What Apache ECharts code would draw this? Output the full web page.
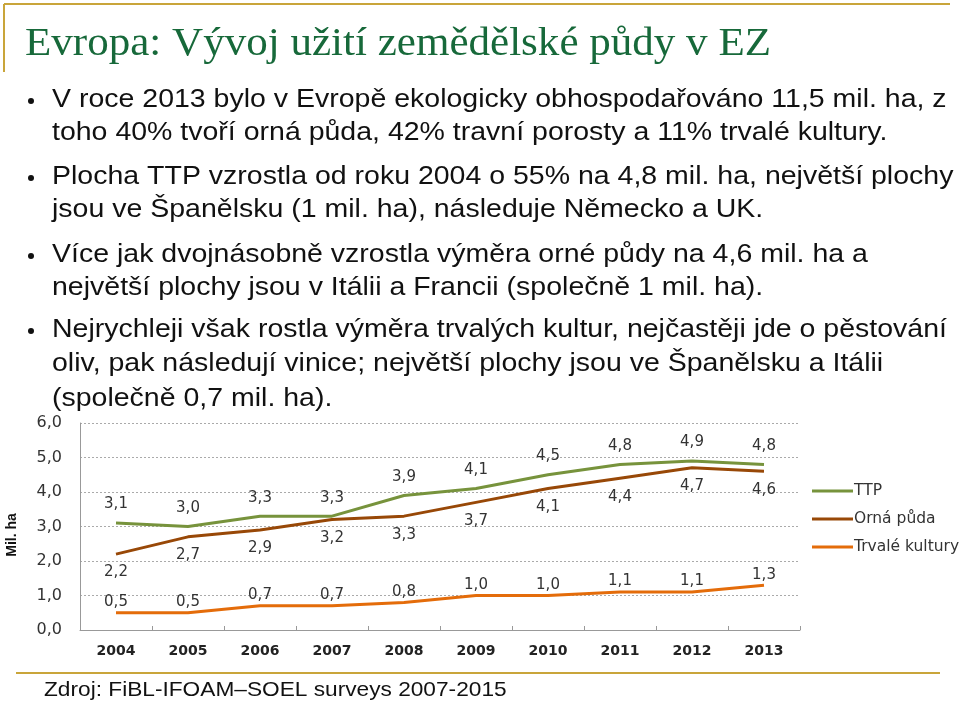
<!DOCTYPE html>
<html>
<head>
<meta charset="utf-8">
<script src="https://cdn.jsdelivr.net/npm/echarts@6/dist/echarts.min.js"></script>
<style>
html,body{margin:0;padding:0;background:#fff;}
#chart{width:960px;height:705px;}
</style>
</head>
<body>
<div id="chart"></div>
<script>
const years = ['2004','2005','2006','2007','2008','2009','2010','2011','2012','2013'];
const ttp = [3.1, 3.0, 3.3, 3.3, 3.9, 4.1, 4.5, 4.8, 4.9, 4.8];
const orna = [2.2, 2.7, 2.9, 3.2, 3.3, 3.7, 4.1, 4.4, 4.7, 4.6];
const trvale = [0.5, 0.5, 0.7, 0.7, 0.8, 1.0, 1.0, 1.1, 1.1, 1.3];
const seriesNames = ['TTP', 'Orná půda', 'Trvalé kultury'];

const titleText = 'Evropa: Vývoj užití zemědělské půdy v EZ';
const bulletLines = [
  {text: 'V roce 2013 bylo v Evropě ekologicky obhospodařováno 11,5 mil. ha, z', bullet: true},
  {text: 'toho 40% tvoří orná půda, 42% travní porosty a 11% trvalé kultury.', bullet: false},
  {text: 'Plocha TTP vzrostla od roku 2004 o 55% na 4,8 mil. ha, největší plochy', bullet: true},
  {text: 'jsou ve Španělsku (1 mil. ha), následuje Německo a UK.', bullet: false},
  {text: 'Více jak dvojnásobně vzrostla výměra orné půdy na 4,6 mil. ha a', bullet: true},
  {text: 'největší plochy jsou v Itálii a Francii (společně 1 mil. ha).', bullet: false},
  {text: 'Nejrychleji však rostla výměra trvalých kultur, nejčastěji jde o pěstování', bullet: true},
  {text: 'oliv, pak následují vinice; největší plochy jsou ve Španělsku a Itálii', bullet: false},
  {text: '(společně 0,7 mil. ha).', bullet: false}
];
const lineYs = [100, 133, 177, 210, 255, 288, 330, 364, 399];
const sourceText = 'Zdroj: FiBL-IFOAM–SOEL surveys 2007-2015';

const chart = echarts.init(document.getElementById('chart'), null, {renderer: 'canvas'});
const gold = '#C9A53A';
const bodyFont = '"Liberation Sans", Arial, sans-serif';
const chartFont = '"DejaVu Sans", Verdana, sans-serif';

const graphics = [
  {type: 'line', shape: {x1: 4, y1: 4, x2: 950, y2: 4}, style: {stroke: gold, lineWidth: 2}},
  {type: 'line', shape: {x1: 4, y1: 4, x2: 4, y2: 72}, style: {stroke: gold, lineWidth: 2}},
  {type: 'line', shape: {x1: 16, y1: 673, x2: 940, y2: 673}, style: {stroke: gold, lineWidth: 2}},
  {type: 'text', x: 25, y: 44, scaleX: 1.05, style: {text: titleText, font: '41px "Liberation Serif", "Times New Roman", serif', fill: '#17693A', verticalAlign: 'middle'}},
  {type: 'text', x: 44, y: 690, scaleX: 1.08, style: {text: sourceText, font: '21px ' + bodyFont, fill: '#111', verticalAlign: 'middle'}},
  {type: 'text', x: 12, y: 535, rotation: Math.PI / 2, style: {text: 'Mil. ha', font: 'bold 14px ' + bodyFont, fill: '#111', align: 'center', verticalAlign: 'middle'}}
];
bulletLines.forEach((l, i) => {
  graphics.push({type: 'text', x: 52, y: lineYs[i], scaleX: 1.14, style: {text: l.text, font: '25px ' + bodyFont, fill: '#111', verticalAlign: 'middle'}});
  if (l.bullet) {
    graphics.push({type: 'circle', shape: {cx: 31, cy: lineYs[i] + 1, r: 3}, style: {fill: '#111'}});
  }
});

const labelFmt = p => p.value.toFixed(1).replace('.', ',');
const colors = ['#77933C', '#984807', '#E46C0A'];
const datas = [ttp, orna, trvale];
const labelPos = ['top', 'bottom', 'top'];
const labelDist = [11, 11, 3];

chart.setOption({
  animation: false,
  textStyle: {fontFamily: chartFont},
  grid: {left: 80, right: 160, top: 423, bottom: 75},
  legend: {
    orient: 'vertical', left: 807, top: 478, itemWidth: 41, itemHeight: 3, itemGap: 12,
    icon: 'rect',
    textStyle: {fontSize: 15.5, color: '#333', fontFamily: chartFont, padding: [0, 0, 0, -4]},
    data: seriesNames
  },
  xAxis: {
    type: 'category', data: years, boundaryGap: true,
    axisLine: {lineStyle: {color: '#999', width: 1}},
    axisTick: {show: true, inside: true, length: 4, lineStyle: {color: '#999'}},
    axisLabel: {fontWeight: 'bold', fontSize: 14, color: '#222', margin: 14, fontFamily: chartFont}
  },
  yAxis: {
    type: 'value', min: 0, max: 6, interval: 1,
    axisLine: {show: true, lineStyle: {color: '#999'}},
    axisTick: {show: false},
    splitLine: {lineStyle: {color: '#aaa', type: [2, 2]}},
    axisLabel: {fontSize: 16, color: '#333', margin: 18, formatter: v => v.toFixed(1).replace('.', ','), fontFamily: chartFont}
  },
  series: seriesNames.map((n, i) => ({
    name: n, type: 'line', data: datas[i], symbol: 'circle', symbolSize: 0, showSymbol: true,
    lineStyle: {color: colors[i], width: 3}, itemStyle: {color: colors[i]},
    label: {show: true, position: labelPos[i], distance: labelDist[i], formatter: labelFmt, fontSize: 15, color: '#333', fontFamily: chartFont}
  })),
  graphic: graphics
});
</script>
</body>
</html>
